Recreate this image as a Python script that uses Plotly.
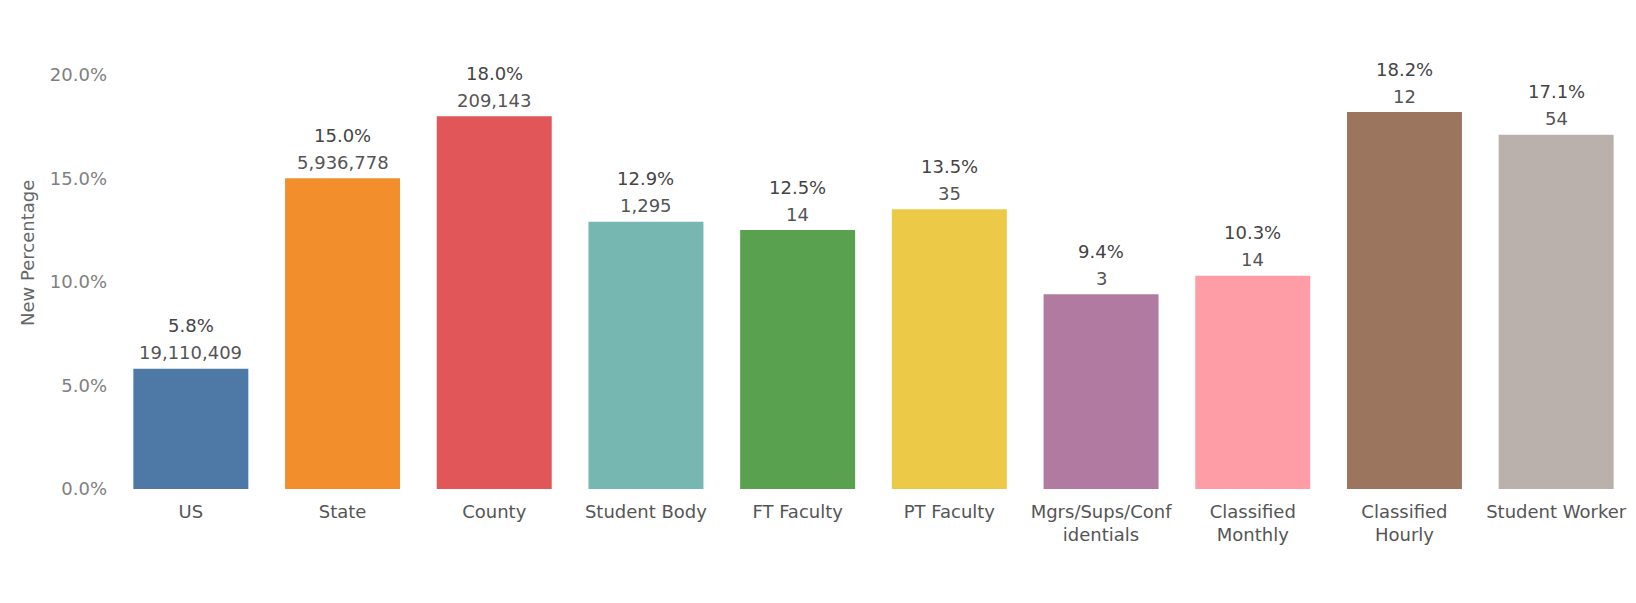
import plotly.graph_objects as go

categories = ["US", "State", "County", "Student Body", "FT Faculty", "PT Faculty",
              "Mgrs/Sups/Conf<br>identials", "Classified<br>Monthly", "Classified<br>Hourly", "Student Worker"]
percentages = [5.8, 15.0, 18.0, 12.9, 12.5, 13.5, 9.4, 10.3, 18.2, 17.1]
counts = [19110409, 5936778, 209143, 1295, 14, 35, 3, 14, 12, 54]
colors = ["#4e79a7", "#f28e2b", "#e15759", "#76b7b2", "#59a14f", "#edc948",
          "#b07aa1", "#ff9da7", "#9c755f", "#bab0ac"]
y_ticks = [0, 5, 10, 15, 20]
y_tick_labels = ["0.0%", "5.0%", "10.0%", "15.0%", "20.0%"]

FONT = "'DejaVu Sans', sans-serif"

fig = go.Figure()
fig.add_trace(go.Bar(
    x=categories, y=percentages,
    marker=dict(color=colors, line=dict(width=0)),
    hoverinfo="skip",
))

annotations = []
for cat, p, c in zip(categories, percentages, counts):
    annotations.append(dict(x=cat, y=p, text=f"{p:.1f}%", showarrow=False,
                            xref="x", yref="y", yanchor="middle", yshift=43,
                            font=dict(family=FONT, size=18, color="#444444")))
    annotations.append(dict(x=cat, y=p, text=f"{c:,}", showarrow=False,
                            xref="x", yref="y", yanchor="middle", yshift=16,
                            font=dict(family=FONT, size=18, color="#555555")))

# y-axis title
annotations.append(dict(text="New Percentage", xref="paper", yref="paper",
                        x=-0.058, y=0.5425, xanchor="center", yanchor="middle",
                        textangle=-90, showarrow=False,
                        font=dict(family=FONT, size=18, color="#666666")))

fig.update_layout(
    width=1636, height=603,
    margin=dict(l=107, r=12, t=46, b=122),
    paper_bgcolor="white", plot_bgcolor="white",
    bargap=0.242,
    showlegend=False,
    annotations=annotations,
    font=dict(family=FONT, size=18, color="#555555"),
    xaxis=dict(showgrid=False, showline=False, zeroline=False, ticks="",
               tickfont=dict(family=FONT, size=18, color="#555555"),
               ticklabelstandoff=10),
    yaxis=dict(range=[0, 21], tickvals=y_ticks, ticktext=y_tick_labels,
               showgrid=False, showline=False, zeroline=False, ticks="",
               tickfont=dict(family=FONT, size=18, color="#808080"),
               ticklabelstandoff=7),
)

fig.write_html("out.html")
